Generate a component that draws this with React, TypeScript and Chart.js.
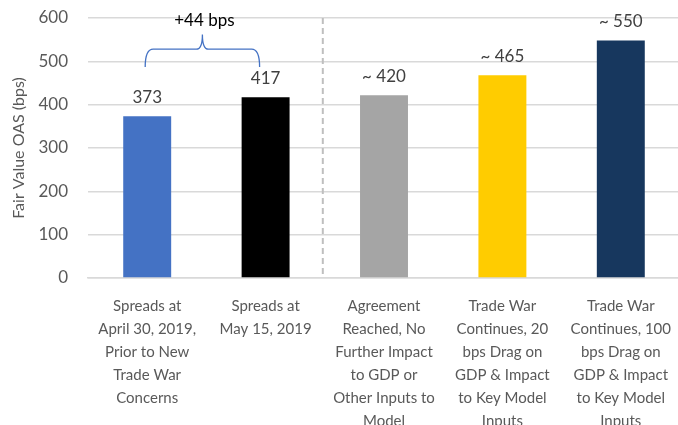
import React, { useEffect, useRef } from "react";
import { Chart, registerables } from "chart.js";

Chart.register(...registerables);

const categories: string[][] = [
  ["Spreads at", "April 30, 2019,", "Prior to New", "Trade War", "Concerns"],
  ["Spreads at", "May 15, 2019"],
  ["Agreement", "Reached, No", "Further Impact", "to GDP or", "Other Inputs to", "Model"],
  ["Trade War", "Continues, 20", "bps Drag on", "GDP & Impact", "to Key Model", "Inputs"],
  ["Trade War", "Continues, 100", "bps Drag on", "GDP & Impact", "to Key Model", "Inputs"],
];
const values: number[] = [373, 417, 422, 468, 548];
const valueLabels: string[] = ["373", "417", "~ 420", "~ 465", "~ 550"];
const barColors: string[] = ["#4472C4", "#000000", "#A5A5A5", "#FFCC00", "#17375E"];
const yTicks: number[] = [0, 100, 200, 300, 400, 500, 600];
const braceLabel = "+44 bps";
const braceFromValue = 487;
const braceLineValue = 528;
const bracePeakValue = 562;

const FONT = "Lato, 'Open Sans', sans-serif";

const overlayPlugin = {
  id: "overlay",
  afterDatasetsDraw(chart: any) {
    const { ctx, chartArea, scales } = chart;
    const x = scales.x;
    const y = scales.y;
    const meta = chart.getDatasetMeta(0);
    ctx.save();
    ctx.font = `17px ${FONT}`;
    ctx.fillStyle = "#404040";
    ctx.textAlign = "center";
    ctx.textBaseline = "middle";
    meta.data.forEach((bar: any, i: number) => {
      ctx.fillText(valueLabels[i], bar.x, bar.y - 19);
    });
    const xd = (x.getPixelForValue(1) + x.getPixelForValue(2)) / 2 - 2;
    ctx.strokeStyle = "#BFBFBF";
    ctx.lineWidth = 2;
    ctx.setLineDash([6, 4]);
    ctx.beginPath();
    ctx.moveTo(xd, chartArea.top);
    ctx.lineTo(xd, chartArea.bottom);
    ctx.stroke();
    ctx.setLineDash([]);
    const x1 = meta.data[0].x - 2;
    const x2 = meta.data[1].x - 6;
    const xm = (x1 + x2) / 2;
    const yb = y.getPixelForValue(braceFromValue);
    const yl = y.getPixelForValue(braceLineValue);
    const yp = y.getPixelForValue(bracePeakValue);
    ctx.strokeStyle = "#4472C4";
    ctx.lineWidth = 1.3;
    ctx.beginPath();
    ctx.moveTo(x1, yb);
    ctx.quadraticCurveTo(x1, yl, x1 + 8, yl);
    ctx.lineTo(xm - 6, yl);
    ctx.quadraticCurveTo(xm, yl, xm, yp);
    ctx.quadraticCurveTo(xm, yl, xm + 6, yl);
    ctx.lineTo(x2 - 8, yl);
    ctx.quadraticCurveTo(x2, yl, x2, yb);
    ctx.stroke();
    ctx.fillStyle = "#000000";
    ctx.font = `17px ${FONT}`;
    ctx.fillText(braceLabel, xm + 2, yp - 14);
    ctx.restore();
  },
};

export default function App() {
  const ref = useRef<HTMLCanvasElement>(null);
  useEffect(() => {
    if (!ref.current) return;
    const chart = new Chart(ref.current, {
      type: "bar",
      data: {
        labels: categories,
        datasets: [
          {
            data: values,
            backgroundColor: barColors,
            barPercentage: 0.405,
            categoryPercentage: 1,
          },
        ],
      },
      options: {
        animation: false,
        responsive: false,
        layout: { padding: { left: 0, right: 0, top: 18, bottom: 0 } },
        plugins: { legend: { display: false }, tooltip: { enabled: false } },
        scales: {
          x: {
            grid: { display: false, drawTicks: false },
            border: { display: true, color: "#D9D9D9", width: 1.5 },
            ticks: {
              autoSkip: false,
              maxRotation: 0,
              minRotation: 0,
              padding: 17,
              color: "#595959",
              font: { family: FONT, size: 15, lineHeight: 23 / 15 },
            },
            afterFit(scale: any) {
              scale.height = 172;
              scale.paddingTop = 0;
              scale.paddingBottom = 0;
              scale.paddingLeft = 0;
              scale.paddingRight = 0;
            },
          },
          y: {
            min: 0,
            max: 600,
            afterBuildTicks(scale: any) {
              scale.ticks = yTicks.map((v) => ({ value: v }));
            },
            grid: { color: "#D9D9D9", lineWidth: 1.5, drawTicks: false },
            border: { display: false },
            ticks: {
              padding: 20,
              color: "#595959",
              font: { family: FONT, size: 17 },
            },
            title: {
              display: true,
              text: "Fair Value OAS (bps)",
              color: "#595959",
              font: { family: FONT, size: 16 },
              padding: { top: 9, bottom: 0 },
            },
            afterFit(scale: any) {
              scale.width = 88;
              scale.paddingTop = 0;
              scale.paddingBottom = 0;
            },
          },
        },
      },
      plugins: [overlayPlugin],
    });
    return () => chart.destroy();
  }, []);
  return (
    <div
      style={{
        position: "fixed",
        left: 0,
        top: 0,
        width: 678,
        height: 425,
        overflow: "hidden",
        background: "#fff",
      }}
    >
      <canvas ref={ref} width={680} height={450} style={{ display: "block" }} />
    </div>
  );
}
